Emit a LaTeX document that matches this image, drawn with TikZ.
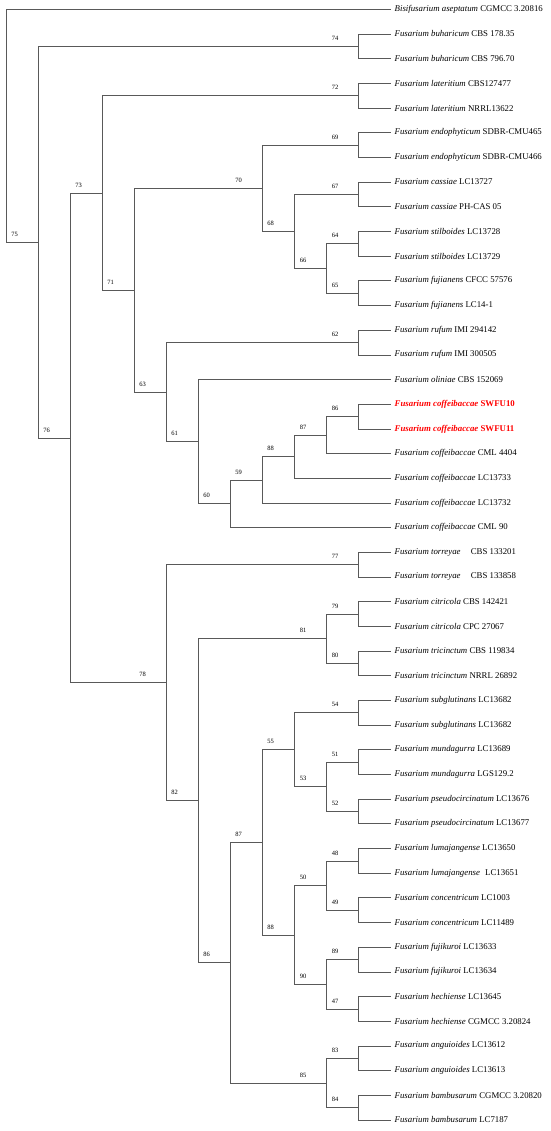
\documentclass[tikz,border=0pt]{standalone}
\usepackage{fontspec}
\setmainfont{Liberation Serif}
\usetikzlibrary{positioning}

\tikzset{
  leaf/.style={anchor=west, inner xsep=4pt, inner ysep=0pt, font=\fontsize{8.8}{10}\selectfont},
  hit/.style={text=red, font=\fontsize{8.8}{10}\selectfont\bfseries},
  leaf17/.style={hit}, leaf18/.style={hit},
  boot/.style={pos=1, anchor=base, xshift=-23.5pt, yshift=5.8pt, inner sep=0pt, font=\fontsize{6.5}{7}\selectfont},
  branch/.style={draw=black!65, line width=0.6pt}
}

\begin{document}
\begin{tikzpicture}[x=1pt, y=-1pt]
    \useasboundingbox (0,0) rectangle (550,1131);

    % taxa, one every 24.68pt
    \foreach \sp/\st [count=\i] in {
        Bisifusarium aseptatum/CGMCC 3.20816,
        Fusarium buharicum/CBS 178.35,
        Fusarium buharicum/CBS 796.70,
        Fusarium lateritium/CBS127477,
        Fusarium lateritium/NRRL13622,
        Fusarium endophyticum/SDBR-CMU465,
        Fusarium endophyticum/SDBR-CMU466,
        Fusarium cassiae/LC13727,
        Fusarium cassiae/PH-CAS 05,
        Fusarium stilboides/LC13728,
        Fusarium stilboides/LC13729,
        Fusarium fujianens/CFCC 57576,
        Fusarium fujianens/LC14-1,
        Fusarium rufum/IMI 294142,
        Fusarium rufum/IMI 300505,
        Fusarium oliniae/CBS 152069,
        Fusarium coffeibaccae/SWFU10,
        Fusarium coffeibaccae/SWFU11,
        Fusarium coffeibaccae/CML 4404,
        Fusarium coffeibaccae/LC13733,
        Fusarium coffeibaccae/LC13732,
        Fusarium coffeibaccae/CML 90,
        Fusarium torreyae/\hspace{8pt}CBS 133201,
        Fusarium torreyae/\hspace{8pt}CBS 133858,
        Fusarium citricola/CBS 142421,
        Fusarium citricola/CPC 27067,
        Fusarium tricinctum/CBS 119834,
        Fusarium tricinctum/NRRL 26892,
        Fusarium subglutinans/LC13682,
        Fusarium subglutinans/LC13682,
        Fusarium mundagurra/LC13689,
        Fusarium mundagurra/LGS129.2,
        Fusarium pseudocircinatum/LC13676,
        Fusarium pseudocircinatum/LC13677,
        Fusarium lumajangense/LC13650,
        Fusarium lumajangense/\hspace{3pt}LC13651,
        Fusarium concentricum/LC1003,
        Fusarium concentricum/LC11489,
        Fusarium fujikuroi/LC13633,
        Fusarium fujikuroi/LC13634,
        Fusarium hechiense/LC13645,
        Fusarium hechiense/CGMCC 3.20824,
        Fusarium anguioides/LC13612,
        Fusarium anguioides/LC13613,
        Fusarium bambusarum/CGMCC 3.20820,
        Fusarium bambusarum/LC7187}
        \node[leaf, leaf\i/.try] (l\i) at (390.5, {9.3+24.68*(\i-1)}) {\textit{\sp} \st};

    % clades
    \coordinate (root) at (6, 125.7);
    \coordinate (buh_bam) at (38, 242.0);
    \coordinate (buharicum) at (358.5, 46.3);
    \coordinate (lat_bam) at (70, 437.8);
    \coordinate (lat_coff) at (102, 192.9);
    \coordinate (lateritium) at (358.5, 95.7);
    \coordinate (endo_coff) at (134, 290.1);
    \coordinate (endo_fuj) at (262, 188.2);
    \coordinate (endophyticum) at (358.5, 145.0);
    \coordinate (cas_fuj) at (294, 231.4);
    \coordinate (cassiae) at (358.5, 194.4);
    \coordinate (stil_fuj) at (326.5, 268.4);
    \coordinate (stilboides) at (358.5, 243.8);
    \coordinate (fujianens) at (358.5, 293.1);
    \coordinate (rufum_coff) at (166, 392.0);
    \coordinate (rufum) at (358.5, 342.5);
    \coordinate (olin_coff) at (198, 441.6);
    \coordinate (coffeibaccae) at (230, 503.7);
    \coordinate (coff_13732) at (262, 479.8);
    \coordinate (coff_13733) at (294, 456.6);
    \coordinate (swfu_4404) at (326.5, 435.0);
    \coordinate (swfu) at (358.5, 416.5);
    \coordinate (tor_bam) at (166, 682.6);
    \coordinate (torreyae) at (358.5, 564.6);
    \coordinate (cit_bam) at (198, 800.6);
    \coordinate (cit_tri) at (326.5, 638.6);
    \coordinate (citricola) at (358.5, 614.0);
    \coordinate (tricinctum) at (358.5, 663.3);
    \coordinate (sub_bam) at (230, 962.6);
    \coordinate (sub_hec) at (262, 842.3);
    \coordinate (sub_pse) at (294, 749.7);
    \coordinate (subglutinans) at (358.5, 712.7);
    \coordinate (mun_pse) at (326.5, 786.7);
    \coordinate (mundagurra) at (358.5, 762.0);
    \coordinate (pseudocirc) at (358.5, 811.4);
    \coordinate (lum_hec) at (294, 934.8);
    \coordinate (lum_con) at (326.5, 885.4);
    \coordinate (lumajangense) at (358.5, 860.8);
    \coordinate (concentricum) at (358.5, 910.1);
    \coordinate (fuj_hec) at (326.5, 984.2);
    \coordinate (fujikuroi) at (358.5, 959.5);
    \coordinate (hechiense) at (358.5, 1008.8);
    \coordinate (ang_bam) at (326.5, 1082.9);
    \coordinate (anguioides) at (358.5, 1058.2);
    \coordinate (bambusarum) at (358.5, 1107.6);

    % branches with bootstrap values
    \path[branch] (root) |- (l1.west) (root) |- node[boot] {75} (buh_bam);
    \path[branch] (buh_bam) |- node[boot] {74} (buharicum) (buh_bam) |- node[boot] {76} (lat_bam);
    \path[branch] (lat_bam) |- node[boot] {73} (lat_coff) (lat_bam) |- node[boot] {78} (tor_bam);
    \path[branch] (lat_coff) |- node[boot] {72} (lateritium) (lat_coff) |- node[boot] {71} (endo_coff);
    \path[branch] (endo_coff) |- node[boot] {70} (endo_fuj) (endo_coff) |- node[boot] {63} (rufum_coff);
    \path[branch] (endo_fuj) |- node[boot] {69} (endophyticum) (endo_fuj) |- node[boot] {68} (cas_fuj);
    \path[branch] (cas_fuj) |- node[boot] {67} (cassiae) (cas_fuj) |- node[boot] {66} (stil_fuj);
    \path[branch] (stil_fuj) |- node[boot] {64} (stilboides) (stil_fuj) |- node[boot] {65} (fujianens);
    \path[branch] (rufum_coff) |- node[boot] {62} (rufum) (rufum_coff) |- node[boot] {61} (olin_coff);
    \path[branch] (olin_coff) |- (l16.west) (olin_coff) |- node[boot] {60} (coffeibaccae);
    \path[branch] (coffeibaccae) |- node[boot] {59} (coff_13732) (coffeibaccae) |- (l22.west);
    \path[branch] (coff_13732) |- node[boot] {88} (coff_13733) (coff_13732) |- (l21.west);
    \path[branch] (coff_13733) |- node[boot] {87} (swfu_4404) (coff_13733) |- (l20.west);
    \path[branch] (swfu_4404) |- node[boot] {86} (swfu) (swfu_4404) |- (l19.west);
    \path[branch] (tor_bam) |- node[boot] {77} (torreyae) (tor_bam) |- node[boot] {82} (cit_bam);
    \path[branch] (cit_bam) |- node[boot] {81} (cit_tri) (cit_bam) |- node[boot] {86} (sub_bam);
    \path[branch] (cit_tri) |- node[boot] {79} (citricola) (cit_tri) |- node[boot] {80} (tricinctum);
    \path[branch] (sub_bam) |- node[boot] {87} (sub_hec) (sub_bam) |- node[boot] {85} (ang_bam);
    \path[branch] (sub_hec) |- node[boot] {55} (sub_pse) (sub_hec) |- node[boot] {88} (lum_hec);
    \path[branch] (sub_pse) |- node[boot] {54} (subglutinans) (sub_pse) |- node[boot] {53} (mun_pse);
    \path[branch] (mun_pse) |- node[boot] {51} (mundagurra) (mun_pse) |- node[boot] {52} (pseudocirc);
    \path[branch] (lum_hec) |- node[boot] {50} (lum_con) (lum_hec) |- node[boot] {90} (fuj_hec);
    \path[branch] (lum_con) |- node[boot] {48} (lumajangense) (lum_con) |- node[boot] {49} (concentricum);
    \path[branch] (fuj_hec) |- node[boot] {89} (fujikuroi) (fuj_hec) |- node[boot] {47} (hechiense);
    \path[branch] (ang_bam) |- node[boot] {83} (anguioides) (ang_bam) |- node[boot] {84} (bambusarum);

    % terminal pairs
    \foreach \pair/\a/\b in {buharicum/2/3, lateritium/4/5, endophyticum/6/7, cassiae/8/9,
        stilboides/10/11, fujianens/12/13, rufum/14/15, swfu/17/18, torreyae/23/24,
        citricola/25/26, tricinctum/27/28, subglutinans/29/30, mundagurra/31/32,
        pseudocirc/33/34, lumajangense/35/36, concentricum/37/38, fujikuroi/39/40,
        hechiense/41/42, anguioides/43/44, bambusarum/45/46}
        \path[branch] (\pair) |- (l\a.west) (\pair) |- (l\b.west);

\end{tikzpicture}
\end{document}
